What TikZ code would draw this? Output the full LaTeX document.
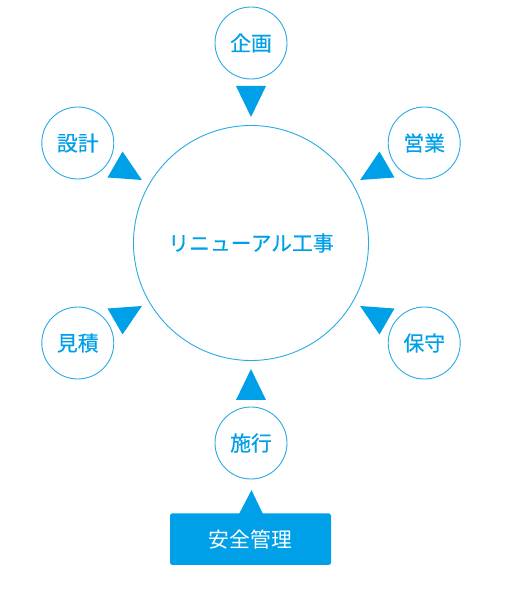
\documentclass[tikz,border=0pt]{standalone}
\usepackage{fontspec}
\setmainfont{Noto Sans CJK JP}
\newfontface\medface{Noto Sans CJK JP}[FakeBold=0.4]
\definecolor{mainblue}{HTML}{00A0E9}
\definecolor{ringblue}{HTML}{29AAE3}
\begin{document}
\begin{tikzpicture}[x=1pt,y=1pt,
  ring/.style={circle, draw=ringblue, line width=0.9pt, fill=white, minimum size=72pt, inner sep=0pt, text=mainblue, font=\medface\fontsize{20.8}{24}\selectfont},
  bigring/.style={ring, minimum size=235pt},
  marker/.style={fill=mainblue},
  safetybox/.style={rectangle, rounded corners=2.5pt, fill=mainblue, text=white, minimum width=161pt, minimum height=51.7pt, inner sep=0pt, font=\fontsize{20.8}{24}\selectfont}]
\useasboundingbox (0,0) rectangle (512,600);
\coordinate (C) at (251,357);
\node[bigring] (center) at (C) {リニューアル工事};
\node[ring] (kikaku) at ([shift={(90:200)}]C) {企画};
\node[ring] (eigyo) at ([shift={(30:200)}]C) {営業};
\node[ring] (sekkei) at ([shift={(150:200)}]C) {設計};
\node[ring] (hoshu) at ([shift={(-30:200)}]C) {保守};
\node[ring] (mitsumori) at ([shift={(-150:200)}]C) {見積};
\node[ring] (shiko) at ([shift={(-90:200)}]C) {施行};
\foreach \a in {90,30,150,-30,-150,-90}
  \fill[marker, shift={(C)}, rotate=\a] (126,0) -- (157,15) -- (157,-15) -- cycle;
\node[safetybox] (anzen) at (250.5,60.85) {\raisebox{-1.5pt}{安全管理}};
\fill[marker] ([xshift=-11.5pt,yshift=-1pt]anzen.north) -- ([xshift=1pt,yshift=23pt]anzen.north) -- ([xshift=12.5pt,yshift=-1pt]anzen.north) -- cycle;
\end{tikzpicture}
\end{document}
